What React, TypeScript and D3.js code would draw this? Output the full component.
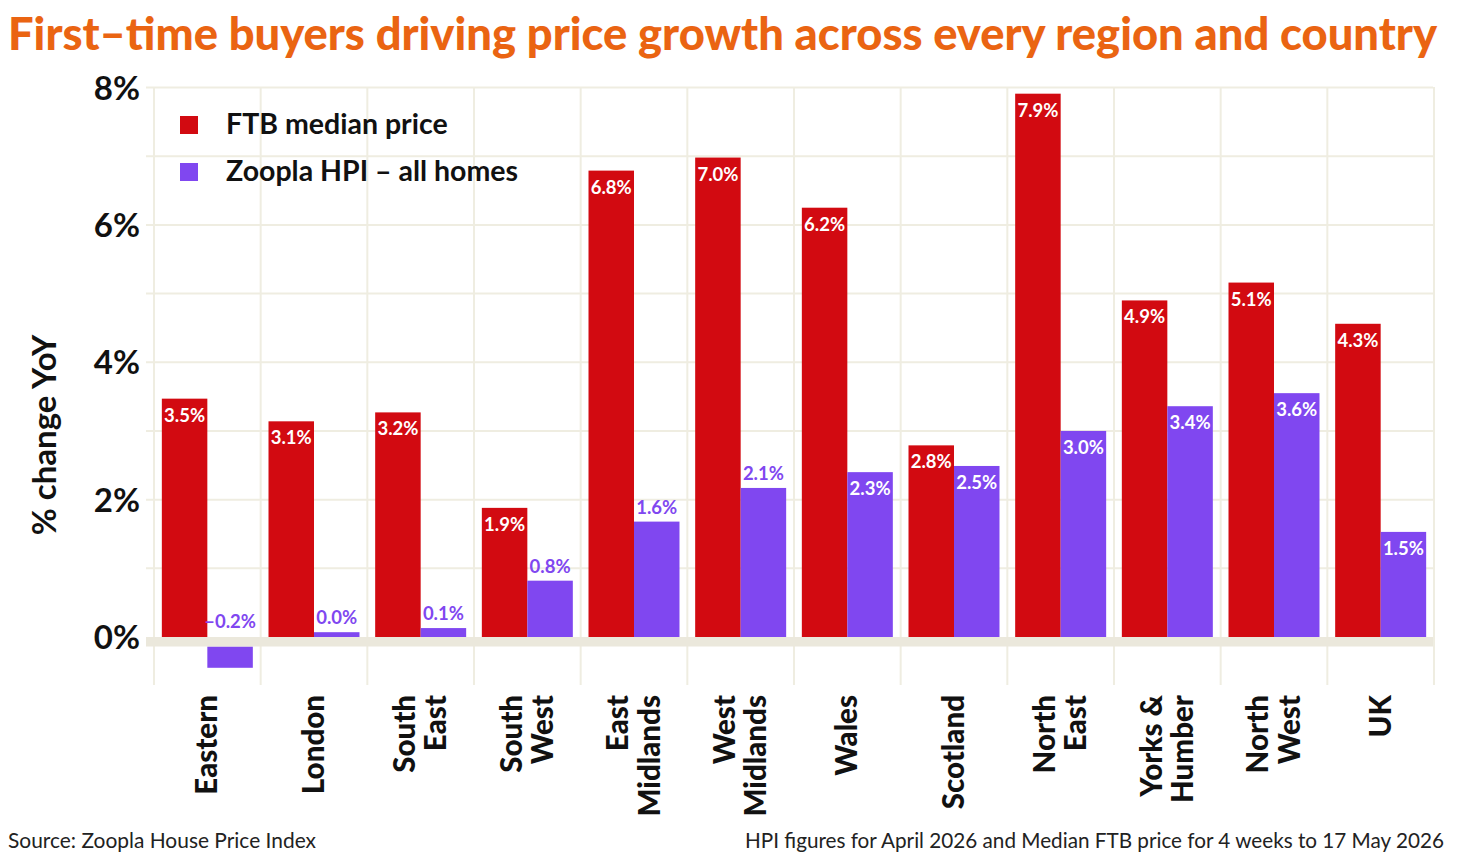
import React from "react";
import * as d3 from "d3";

const categories: string[][] = [
  ["Eastern"],
  ["London"],
  ["South", "East"],
  ["South", "West"],
  ["East", "Midlands"],
  ["West", "Midlands"],
  ["Wales"],
  ["Scotland"],
  ["North", "East"],
  ["Yorks &", "Humber"],
  ["North", "West"],
  ["UK"],
];

// bar heights
const ftbValues = [3.47, 3.14, 3.27, 1.88, 6.79, 6.98, 6.25, 2.79, 7.91, 4.9, 5.16, 4.56];
const hpiValues = [-0.31, 0.07, 0.13, 0.82, 1.68, 2.17, 2.4, 2.49, 3.0, 3.36, 3.55, 1.53];
// value labels as printed
const ftbLabels = ["3.5%", "3.1%", "3.2%", "1.9%", "6.8%", "7.0%", "6.2%", "2.8%", "7.9%", "4.9%", "5.1%", "4.3%"];
const hpiLabels = ["–0.2%", "0.0%", "0.1%", "0.8%", "1.6%", "2.1%", "2.3%", "2.5%", "3.0%", "3.4%", "3.6%", "1.5%"];
const hpiLabelInside = [false, false, false, false, false, false, true, true, true, true, true, true];

const yTicks = [0, 2, 4, 6, 8];
const gridTicks = [1, 2, 3, 4, 5, 6, 7, 8];

const seriesNames = ["FTB median price", "Zoopla HPI – all homes"];
const RED = "#D20A11";
const PURPLE = "#8047F0";
const ORANGE = "#EA6412";
const GRID = "#EFEDE1";
const BAND = "#EBE8DC";
const FONT = "Lato, 'Open Sans', sans-serif";

export default function App() {
  const W = 1460;
  const H = 858;
  const x0 = 154;
  const x1 = 1434;
  const y = d3.scaleLinear().domain([0, 8]).range([637, 87.5]);
  const x = d3
    .scaleBand<number>()
    .domain(categories.map((_, i) => i))
    .range([x0, x1])
    .paddingInner(0.147)
    .paddingOuter(0.0735);
  const sub = d3.scaleBand<number>().domain([0, 1]).range([0, x.bandwidth()]);
  const step = x.step();
  const bandH = 9.5;
  const zeroY = y(0);

  const vlines = d3.range(categories.length + 1).map((i) => x0 + i * step);

  return (
    <svg width={W} height={H} style={{ position: "absolute", left: 0, top: 0, background: "#fff" }} fontFamily={FONT}>
      <rect width={W} height={H} fill="#fff" />
      {/* title */}
      <text x={8} y={50} fontSize={45} fontWeight={900} fill={ORANGE} textLength={1429} lengthAdjust="spacingAndGlyphs">
        First–time buyers driving price growth across every region and country
      </text>

      {/* grid */}
      {gridTicks.map((t) => (
        <line key={"h" + t} x1={146} x2={1433} y1={y(t)} y2={y(t)} stroke={GRID} strokeWidth={2} />
      ))}
      {vlines.map((vx, i) => (
        <line key={"v" + i} x1={vx} x2={vx} y1={87} y2={685} stroke={GRID} strokeWidth={2} />
      ))}

      {/* y tick labels */}
      {yTicks.map((t) => (
        <text key={"t" + t} x={140} y={y(t) + 12} textAnchor="end" fontSize={33} fontWeight={700} fill="#111">
          {t}%
        </text>
      ))}
      <text
        transform={`translate(56,435) rotate(-90)`}
        textAnchor="middle"
        fontSize={33}
        fontWeight={700}
        fill="#111"
      >
        % change YoY
      </text>

      {/* bars */}
      {categories.map((_, i) => {
        const bx = x(i)!;
        const fv = ftbValues[i];
        const hv = hpiValues[i];
        const fx = bx + sub(0)!;
        const hx = bx + sub(1)!;
        const bw = sub.bandwidth();
        const hy = hv >= 0 ? y(hv) : zeroY + bandH;
        const hh = hv >= 0 ? zeroY - y(hv) : y(hv) - zeroY;
        const hLabelY = hv < 0 ? zeroY - 9 : hpiLabelInside[i] ? y(hv) + 23 : y(hv) - 8;
        return (
          <g key={"b" + i}>
            <rect x={fx} y={y(fv)} width={bw} height={zeroY - y(fv)} fill={RED} />
            <rect x={hx} y={hy} width={bw} height={hh} fill={PURPLE} />
            <text x={fx + bw / 2} y={y(fv) + 23} textAnchor="middle" fontSize={18.5} fontWeight={700} fill="#fff">
              {ftbLabels[i]}
            </text>
            <text
              x={hx + bw / 2}
              y={hLabelY}
              textAnchor="middle"
              fontSize={18.5}
              fontWeight={700}
              fill={hpiLabelInside[i] ? "#fff" : PURPLE}
            >
              {hpiLabels[i]}
            </text>
          </g>
        );
      })}

      {/* zero band */}
      <rect x={146} y={zeroY} width={1287} height={bandH} fill={BAND} />

      {/* x labels */}
      {categories.map((lines, i) => {
        const cx = x(i)! + x.bandwidth() / 2;
        const lh = 31.5;
        const n = lines.length;
        return (
          <g key={"x" + i}>
            {lines.map((ln, j) => {
              const bx = cx + 10 + (j - (n - 1) / 2) * lh;
              return (
                <text
                  key={j}
                  transform={`translate(${bx},695) rotate(-90)`}
                  textAnchor="end"
                  fontSize={29.5}
                  fontWeight={900}
                  fill="#111"
                >
                  {ln}
                </text>
              );
            })}
          </g>
        );
      })}

      {/* legend */}
      <rect x={180} y={116} width={18} height={18} fill={RED} />
      <rect x={180} y={163} width={18} height={18} fill={PURPLE} />
      <text x={226} y={134} fontSize={28.5} fontWeight={700} fill="#111">
        {seriesNames[0]}
      </text>
      <text x={226} y={181} fontSize={28.5} fontWeight={700} fill="#111">
        {seriesNames[1]}
      </text>

      {/* footer */}
      <text x={8} y={848} fontSize={21} fontWeight={400} fill="#222" textLength={308} lengthAdjust="spacingAndGlyphs">
        Source: Zoopla House Price Index
      </text>
      <text x={1444} y={848} fontSize={21} fontWeight={400} fill="#222" textAnchor="end" textLength={699} lengthAdjust="spacingAndGlyphs">
        HPI figures for April 2026 and Median FTB price for 4 weeks to 17 May 2026
      </text>
    </svg>
  );
}
